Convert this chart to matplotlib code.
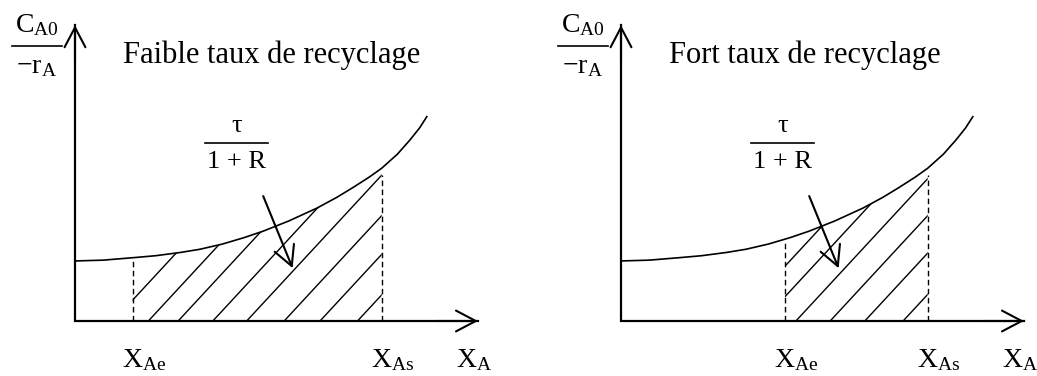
import numpy as np
import matplotlib
matplotlib.use("Agg")
import matplotlib.pyplot as plt
from matplotlib.patches import Polygon

plt.rcParams['font.family'] = ['Liberation Serif', 'DejaVu Serif']
plt.rcParams['mathtext.fontset'] = 'custom'
plt.rcParams['mathtext.rm'] = 'Liberation Serif'
plt.rcParams['mathtext.it'] = 'Liberation Serif:italic'

courbe_x = [0.0, 0.7, 1.43, 2.0, 2.61, 3.1, 3.66, 4.2, 4.67, 5.3,
            6.0, 6.5, 6.91, 7.3, 7.61, 8.0, 8.31, 8.55, 8.73]
courbe_y = [1.49, 1.51, 1.57, 1.62, 1.70, 1.78, 1.91, 2.07, 2.23, 2.48,
            2.80, 3.07, 3.32, 3.57, 3.79, 4.14, 4.49, 4.79, 5.07]

titres = ["Faible taux de recyclage", "Fort taux de recyclage"]
x_ae = [1.43, 4.07]
x_as = [7.61, 7.61]
haut_tirets_ae = [1.57, 1.93]
haut_tirets_as = [3.62, 3.62]
# abscisses où les hachures coupent l'axe X_A
hachures = [[0.95, 1.82, 2.56, 3.42, 4.26, 5.19, 6.08, 7.01],
            [2.81, 3.51, 4.34, 5.19, 6.05, 7.00]]
pente_hachures = 1.08

# mise en page (pixels de l'image)
W, H = 1037, 376
PX = 40.3
origines = [(75, 321), (621, 321)]
bornes = [(0, 518), (518, 1037)]


# 1. fraction écrite à la main : numérateur, barre, dénominateur
def fraction(ax, xc, y_barre, demi, num, den, y_num, y_den, size):
    ax.plot([xc - demi, xc + demi], [y_barre, y_barre], color='k', lw=1.2)
    ax.text(xc, y_num, num, ha='center', va='baseline', fontsize=size)
    ax.text(xc, y_den, den, ha='center', va='baseline', fontsize=size)


# 2. un panneau du schéma
def panneau(ax, i):
    fleche = dict(arrowstyle='->,head_length=0.95,head_width=0.5',
                  mutation_scale=15, color='k', lw=1.5, shrinkA=0, shrinkB=0)

    # axes avec flèches
    ax.plot([0, 0, 10.0], [7.34, 0, 0], color='k', lw=1.6,
            solid_joinstyle='miter')
    ax.annotate('', xy=(0, 7.34), xytext=(0, 6.5), arrowprops=fleche)
    ax.annotate('', xy=(10.0, 0), xytext=(9.0, 0), arrowprops=fleche)

    # courbe
    ax.plot(courbe_x, courbe_y, color='k', lw=1.2)

    # bornes en tirets
    for xv, h in [(x_ae[i], haut_tirets_ae[i]), (x_as[i], haut_tirets_as[i])]:
        ax.plot([xv, xv], [0, h], color='k', lw=1.0, linestyle=(0, (4, 2.5)))

    # zone hachurée sous la courbe entre X_Ae et X_As
    cx = np.array(courbe_x)
    cy = np.array(courbe_y)
    dedans = (cx > x_ae[i]) & (cx < x_as[i])
    bord_x = [x_ae[i], x_ae[i]] + list(cx[dedans]) + [x_as[i], x_as[i]]
    bord_y = ([0, np.interp(x_ae[i], cx, cy)] + list(cy[dedans])
              + [np.interp(x_as[i], cx, cy), 0])
    zone = Polygon(np.column_stack([bord_x, bord_y]), closed=True,
                   facecolor='none', edgecolor='none', transform=ax.transData)
    ax.add_patch(zone)
    for b in hachures[i]:
        ligne, = ax.plot([b, b + 6.0 / pente_hachures], [0, 6.0],
                         color='k', lw=1.0)
        ligne.set_clip_path(zone)

    # flèche vers l'aire tau/(1+R)
    ax.annotate('', xy=(5.40, 1.31), xytext=(4.67, 3.10), arrowprops=fleche)
    fraction(ax, 4.01, 4.42, 0.79, 'τ', '1 + R', 4.70, 3.79, 19)

    # étiquette de l'axe vertical
    fraction(ax, -0.95, 6.83, 0.62, r'$\mathrm{C_{A0}}$', r'$\mathrm{-r_{A}}$',
             7.16, 6.15, 20)

    # titre et étiquettes de l'axe horizontal
    ax.text(1.18, 6.40, titres[i], ha='left', va='baseline', fontsize=22)
    ax.text(x_ae[i] - 0.27, -1.14, r'$\mathrm{X_{Ae}}$', ha='left',
            va='baseline', fontsize=20)
    ax.text(x_as[i] - 0.27, -1.14, r'$\mathrm{X_{As}}$', ha='left',
            va='baseline', fontsize=20)
    ax.text(9.45, -1.14, r'$\mathrm{X_{A}}$', ha='left', va='baseline',
            fontsize=20)


def main():
    fig = plt.figure(figsize=(W / 100, H / 100), dpi=100)
    for i in range(2):
        x0, x1 = bornes[i]
        ox, oy = origines[i]
        ax = fig.add_axes([x0 / W, 0, (x1 - x0) / W, 1])
        ax.set_xlim((x0 - ox) / PX, (x1 - ox) / PX)
        ax.set_ylim((oy - H) / PX, oy / PX)
        ax.axis('off')
        panneau(ax, i)
    fig.savefig("out.png", dpi=100, facecolor='white')


if __name__ == "__main__":
    main()
